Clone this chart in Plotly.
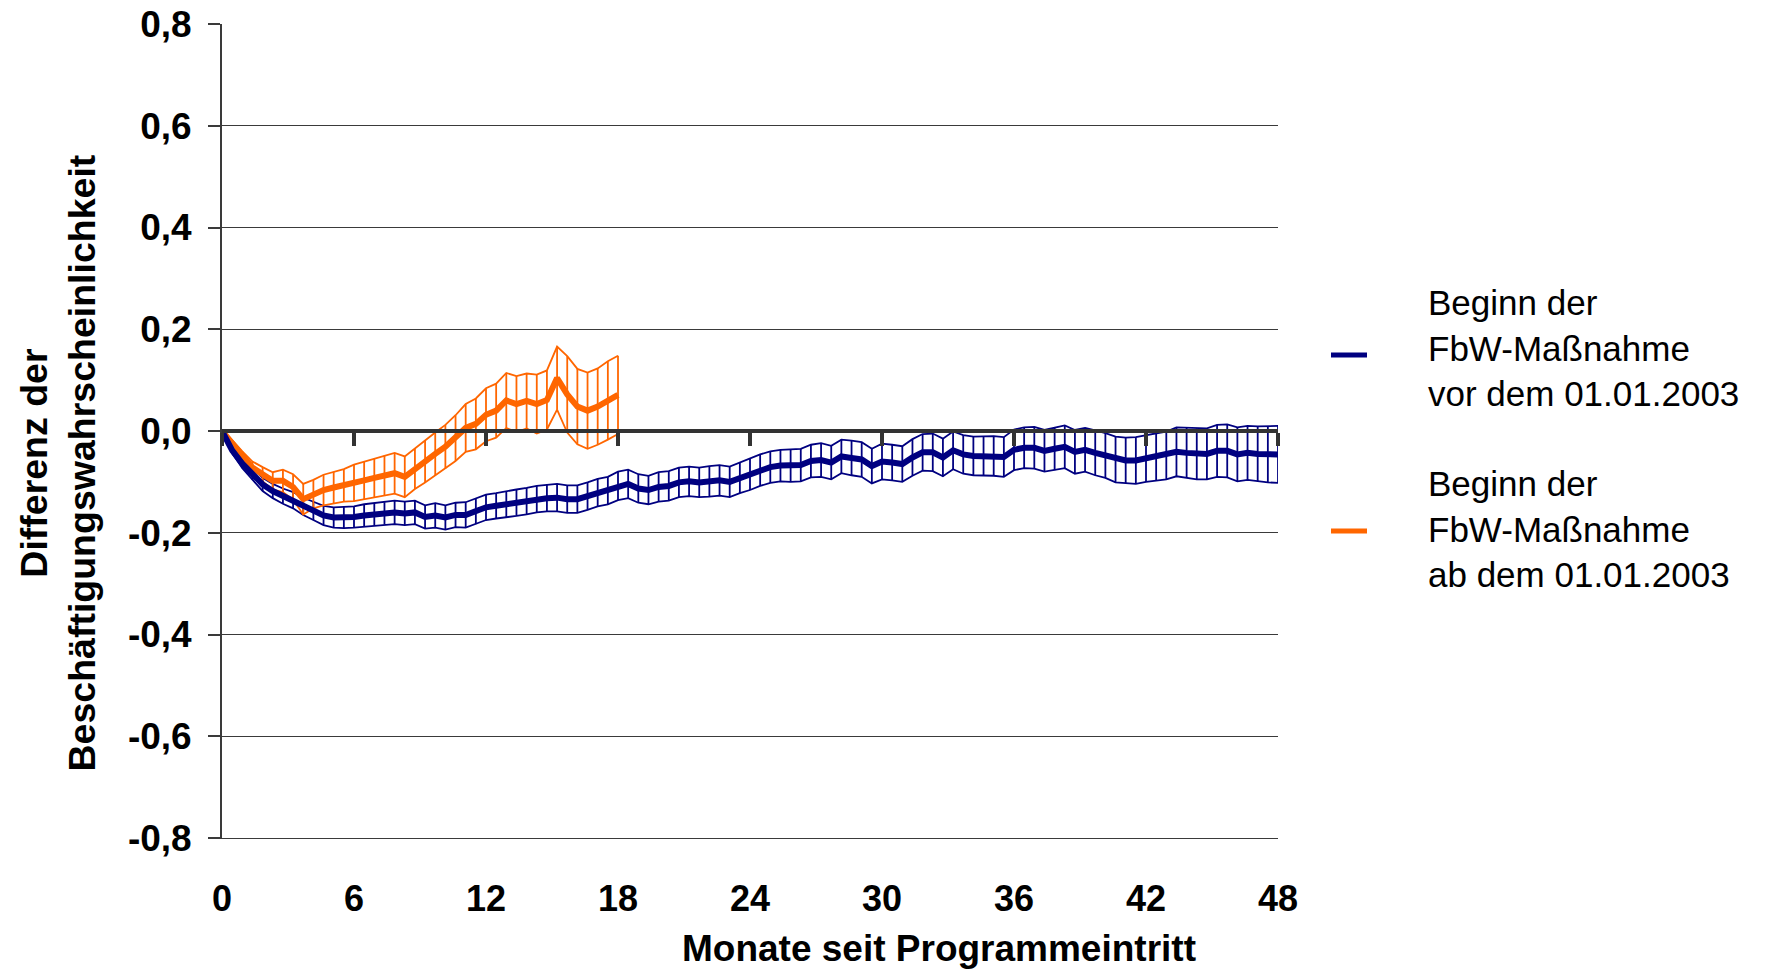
import plotly.graph_objects as go

# ---------------- data (two-week periods since programme entry) ----------------
# 13 periods = 6 months; 104 periods = 48 months
month_ticks = [0, 6, 12, 18, 24, 30, 36, 42, 48]
periods_per_6_months = 13

y_ticks = [-0.8, -0.6, -0.4, -0.2, 0.0, 0.2, 0.4, 0.6, 0.8]
y_tick_labels = ["-0,8", "-0,6", "-0,4", "-0,2", "0,0", "0,2", "0,4", "0,6", "0,8"]

series_names = [
    "Beginn der<br>FbW-Maßnahme<br>vor dem 01.01.2003",
    "Beginn der<br>FbW-Maßnahme<br>ab dem 01.01.2003",
]

# Blue: start before 01.01.2003 (105 points, periods 0..104)
blue_mid = [
    0.000, -0.038, -0.064, -0.085, -0.105, -0.118, -0.128, -0.136, -0.148, -0.157,
    -0.166, -0.170, -0.170, -0.169, -0.166, -0.164, -0.162, -0.160, -0.162, -0.160,
    -0.169, -0.166, -0.170, -0.165, -0.165, -0.158, -0.150, -0.147, -0.144, -0.141,
    -0.138, -0.134, -0.132, -0.131, -0.134, -0.134, -0.128, -0.121, -0.117, -0.108,
    -0.104, -0.113, -0.116, -0.110, -0.108, -0.101, -0.099, -0.101, -0.099, -0.097,
    -0.100, -0.092, -0.085, -0.077, -0.071, -0.068, -0.068, -0.067, -0.059, -0.057,
    -0.062, -0.050, -0.053, -0.056, -0.069, -0.060, -0.062, -0.065, -0.052, -0.042,
    -0.042, -0.052, -0.038, -0.046, -0.049, -0.049, -0.049, -0.051, -0.037, -0.033,
    -0.033, -0.039, -0.035, -0.031, -0.041, -0.037, -0.043, -0.048, -0.056, -0.058,
    -0.058, -0.054, -0.051, -0.048, -0.041, -0.043, -0.045, -0.045, -0.039, -0.039,
    -0.046, -0.043, -0.045, -0.046, -0.046,
]
blue_ci = [
    0.000, 0.006, 0.009, 0.011, 0.013, 0.014, 0.015, 0.016, 0.017, 0.018,
    0.019, 0.020, 0.021, 0.021, 0.022, 0.022, 0.022, 0.023, 0.023, 0.023,
    0.023, 0.024, 0.024, 0.024, 0.025, 0.025, 0.025, 0.025, 0.026, 0.026,
    0.026, 0.026, 0.026, 0.027, 0.027, 0.027, 0.027, 0.027, 0.027, 0.028,
    0.028, 0.028, 0.028, 0.029, 0.029, 0.029, 0.029, 0.029, 0.030, 0.030,
    0.030, 0.030, 0.031, 0.031, 0.031, 0.031, 0.032, 0.032, 0.032, 0.033,
    0.033, 0.033, 0.034, 0.034, 0.034, 0.035, 0.035, 0.035, 0.036, 0.036,
    0.037, 0.037, 0.037, 0.038, 0.038, 0.038, 0.039, 0.039, 0.040, 0.040,
    0.041, 0.041, 0.042, 0.042, 0.043, 0.043, 0.044, 0.044, 0.045, 0.045,
    0.046, 0.046, 0.047, 0.047, 0.048, 0.049, 0.050, 0.050, 0.051, 0.052,
    0.053, 0.053, 0.054, 0.055, 0.056,
]

# Orange: start from 01.01.2003 (40 points, periods 0..39)
orange_mid = [
    0.000, -0.025, -0.050, -0.072, -0.085, -0.098, -0.098, -0.110, -0.134, -0.124,
    -0.116, -0.111, -0.107, -0.102, -0.097, -0.092, -0.087, -0.083, -0.090, -0.074,
    -0.060, -0.045, -0.031, -0.014, 0.006, 0.014, 0.032, 0.040, 0.060, 0.053,
    0.059, 0.053, 0.061, 0.104, 0.072, 0.048, 0.040, 0.048, 0.060, 0.071,
]
orange_ci = [
    0.000, 0.007, 0.010, 0.012, 0.014, 0.017, 0.022, 0.025, 0.030, 0.028,
    0.030, 0.031, 0.032, 0.036, 0.037, 0.038, 0.039, 0.040, 0.040, 0.040,
    0.041, 0.042, 0.043, 0.045, 0.047, 0.050, 0.052, 0.053, 0.054, 0.055,
    0.054, 0.058, 0.058, 0.062, 0.075, 0.074, 0.075, 0.075, 0.077, 0.077,
]

colors = ["#000080", "#FF6600"]

# ---------------- figure ----------------
FONT = "Liberation Sans, Arial, sans-serif"
fig = go.Figure()


def add_band(mid, ci, color, center_axis="x"):
    periods = list(range(len(mid)))
    upper = [m + c for m, c in zip(mid, ci)]
    lower = [m - c for m, c in zip(mid, ci)]
    # vertical connectors (high-low lines)
    fig.add_trace(go.Scatter(
        x=periods, y=mid, mode="markers",
        marker=dict(size=1, color="rgba(0,0,0,0)"),
        error_y=dict(type="data", array=ci, symmetric=True, width=0,
                     thickness=1.8, color=color),
        showlegend=False, hoverinfo="skip"))
    for band in (upper, lower):
        fig.add_trace(go.Scatter(
            x=periods, y=band, mode="lines",
            line=dict(color=color, width=1.8),
            showlegend=False, hoverinfo="skip"))
    fig.add_trace(go.Scatter(
        x=periods, y=mid, mode="lines", xaxis=center_axis,
        line=dict(color=color, width=6),
        showlegend=False))


add_band(blue_mid, blue_ci, colors[0], center_axis="x2")
add_band(orange_mid, orange_ci, colors[1])

n_last = periods_per_6_months * (len(month_ticks) - 1)
tick_positions = [periods_per_6_months * k for k in range(len(month_ticks))]

fig.update_layout(
    width=1767, height=972,
    margin=dict(l=222, r=489, t=24, b=134, autoexpand=False),
    paper_bgcolor="white", plot_bgcolor="white",
    font=dict(family=FONT, color="black"),
    showlegend=False,
    xaxis=dict(
        range=[0, n_last], tickvals=tick_positions,
        ticktext=[str(m) for m in month_ticks],
        ticks="", showgrid=False, zeroline=False,
        showline=True, linecolor="#3a3a3a", linewidth=1.3,
        tickfont=dict(size=36, family=FONT, weight="bold"),
        ticklabelstandoff=29,
    ),
    xaxis2=dict(
        range=[0, n_last], overlaying="x", anchor="free", position=0.5,
        tickvals=tick_positions, showticklabels=False,
        ticks="outside", ticklen=13, tickwidth=3.5, tickcolor="#333333",
        showline=True, linecolor="#333333", linewidth=4,
        showgrid=False, zeroline=False,
    ),
    yaxis=dict(
        range=[-0.8, 0.8], tickvals=y_ticks, ticktext=y_tick_labels,
        showgrid=True, gridcolor="#3a3a3a", gridwidth=1.3,
        zeroline=False, showline=True, linecolor="#3a3a3a", linewidth=1.8,
        ticks="outside", ticklen=12, tickwidth=1.5, tickcolor="#3a3a3a",
        tickfont=dict(size=37, family=FONT, weight="bold"),
        ticklabelstandoff=9,
    ),
)

# axis titles
fig.add_annotation(
    text="Differenz der<br>Beschäftigungswahrscheinlichkeit",
    textangle=-90, xref="paper", yref="paper",
    x=(57.5 - 222) / 1056, y=(838 - 463) / 814,
    xanchor="center", yanchor="middle", showarrow=False,
    font=dict(size=37.5, family=FONT, weight="bold"))
fig.add_annotation(
    text="Monate seit Programmeintritt",
    xref="paper", yref="paper",
    x=(939 - 222) / 1056, y=(838 - 949) / 814,
    xanchor="center", yanchor="middle", showarrow=False,
    font=dict(size=37, family=FONT, weight="bold"))

# legend (manual)
legend_text_y = [(838 - 348) / 814, (838 - 529) / 814]
legend_line_y = [(838 - 355) / 814, (838 - 531) / 814]
for name, color, ty, ly in zip(series_names, colors, legend_text_y, legend_line_y):
    fig.add_shape(type="line", xref="paper", yref="paper",
                  x0=(1331 - 222) / 1056, x1=(1367 - 222) / 1056, y0=ly, y1=ly,
                  line=dict(color=color, width=5))
    fig.add_annotation(
        text=name, xref="paper", yref="paper",
        x=(1426 - 222) / 1056, y=ty, xanchor="left", yanchor="middle",
        align="left", showarrow=False,
        font=dict(size=35, family=FONT))

fig.write_html("out.html")
